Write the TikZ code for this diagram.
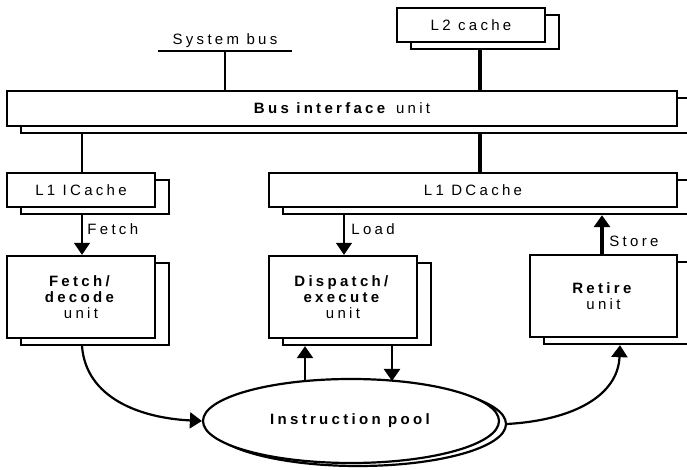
\documentclass[tikz,border=0pt]{standalone}
\usepackage{fontspec}
\setmainfont{Liberation Sans}[LetterSpace=22]
\usetikzlibrary{arrows.meta,shadows,calc,backgrounds,shapes.geometric}
\begin{document}
\begin{tikzpicture}[x=0.5pt,y=-0.5pt,
  txt/.style={font=\fontsize{7.5}{8}\selectfont, inner sep=0pt},
  box/.style={draw, fill=white, line width=1.15pt, inner sep=0pt, align=center,
    font=\fontsize{7.5}{8}\selectfont,
    copy shadow={shadow xshift=7pt, shadow yshift=-3.5pt, fill=white, draw=black, line width=1.15pt}},
  tip/.style={-{Triangle[width=8pt,length=6pt]}},
  thinln/.style={line width=0.6pt},
  medln/.style={line width=1.1pt},
  thickln/.style={line width=1.6pt}]
\useasboundingbox (0,0) rectangle (687,470);

% x positions of the vertical connectors
\coordinate (xA) at (82,0);
\coordinate (xSB) at (225,0);
\coordinate (xL2) at (480,0);
\coordinate (xLoad) at (344,0);
\coordinate (xStore) at (602,0);
\coordinate (xUp) at (305,0);
\coordinate (xDown) at (392,0);
\coordinate (xRet) at (620,0);

% boxes
\node[box, minimum width=74pt, minimum height=17pt] (l2) at (471,25) {L2 cache};
\node[box, minimum width=335pt, minimum height=17.5pt] (biu) at (342,108.5) {\textbf{Bus interface} unit};
\node[box, minimum width=74pt, minimum height=17pt] (ic) at (81,190) {L1 ICache};
\node[box, minimum width=204pt, minimum height=17pt] (dc) at (473,190) {L1 DCache};
\node[box, minimum width=74pt, minimum height=41pt] (fd) at (81,297) {\textbf{Fetch/}\\\textbf{decode}\\unit};
\node[box, minimum width=74pt, minimum height=41pt] (de) at (343,297) {\textbf{Dispatch/}\\\textbf{execute}\\unit};
\node[box, minimum width=73.5pt, minimum height=41pt] (ret) at (603.5,296) {\textbf{Retire}\\unit};

% instruction pool
\node[draw, ellipse, line width=1.1pt, fill=white, inner sep=0pt, minimum width=148pt, minimum height=42pt] (pool2) at (358,424) {};
\node[draw, ellipse, line width=1.1pt, fill=white, inner sep=0pt, minimum width=148pt, minimum height=42pt] (pool) at (351,421) {};
\node[txt, font=\fontsize{7.5}{8}\selectfont\bfseries] (pooltxt) at (350,421) {Instruction pool};

% system bus
\node[txt] (sb) at (225,41) {System bus};
\coordinate (sbl) at (158,51);
\coordinate (sbr) at (292,51);
\coordinate (sbj) at (225,51);
\draw[line width=0.8pt] (sbl) -- (sbr);
\draw[line width=0.65pt] (sbj) -- (biu.north -| xSB);

% connectors partly hidden behind the shadows
\begin{scope}[on background layer]
  \draw[thickln] (l2.south -| xL2) -- (biu.north -| xL2);
  \draw[thinln] (biu.south -| xA) -- (ic.north -| xA);
  \draw[thickln] (biu.south -| xL2) -- (dc.north -| xL2);
  \draw[thinln, tip] (ic.south -| xA) -- (fd.north -| xA);
  \draw[thinln, tip] (dc.south -| xLoad) -- (de.north -| xLoad);
  \draw[line width=1.2pt, tip] (pool.center -| xUp) -- ($(de.south -| xUp)+(0,7)$);
\end{scope}

\node[txt, anchor=west] (fetchlbl) at (87,229) {Fetch};
\node[txt, anchor=west] (loadlbl) at (351,229) {Load};
\node[txt, anchor=west] (storelbl) at (609,241) {Store};

\draw[thickln, tip] (ret.north -| xStore) -- ($(dc.south -| xStore)+(0,7)$);
\coordinate (dtip) at (392,381);
\draw[line width=1.2pt, tip] ($(de.south -| xDown)+(0,7)$) -- (dtip);

\draw[medln, tip] ($(fd.south -| xA)+(0,7)$) .. controls (86,398) and (140,418) .. (pool.west);
\draw[medln, tip] (pool2.east) .. controls (575,420) and (618,395) .. ($(ret.south -| xRet)+(0,7)$);
\end{tikzpicture}
\end{document}
